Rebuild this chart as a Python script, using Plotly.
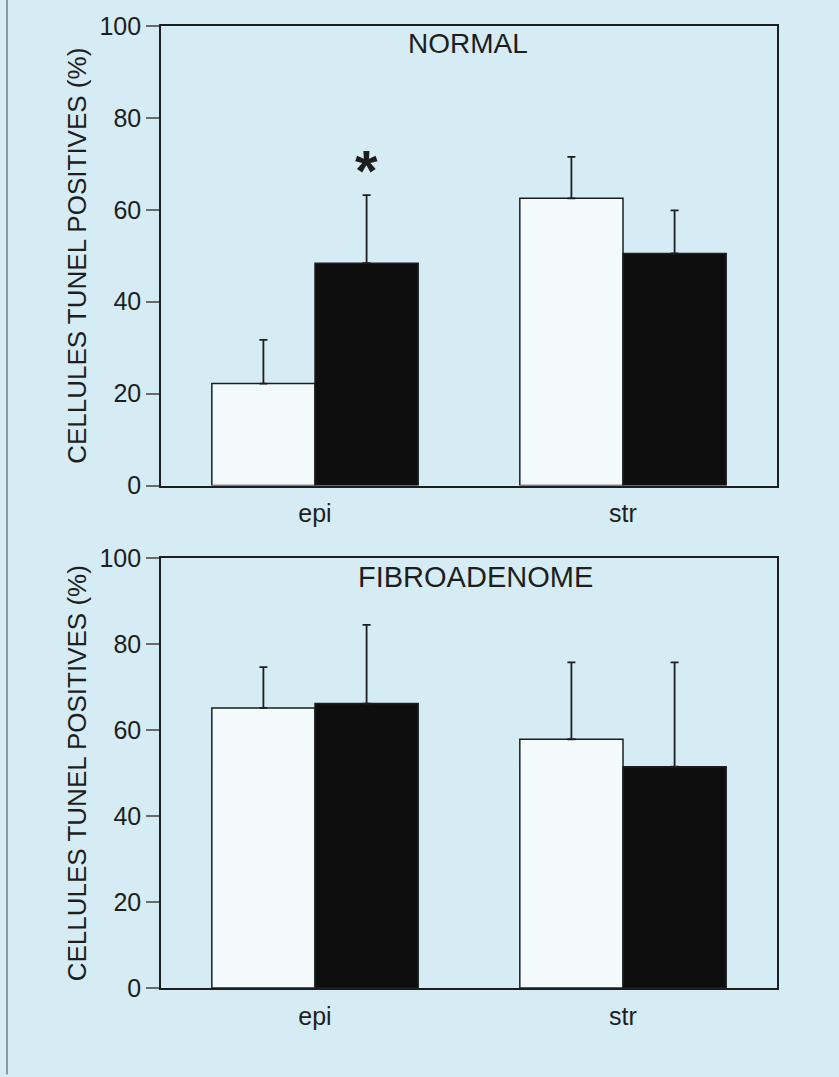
import plotly.graph_objects as go

# ---- data ----
categories = ["epi", "str"]
panel_titles = ["NORMAL", "FIBROADENOME"]

normal_white = [22.2, 62.5]
normal_white_err = [9.5, 9.0]
normal_black = [48.4, 50.5]
normal_black_err = [14.8, 9.4]

fibro_white = [65.2, 57.9]
fibro_white_err = [9.5, 17.9]
fibro_black = [66.2, 51.5]
fibro_black_err = [18.3, 24.3]

y_ticks = [0, 20, 40, 60, 80, 100]
y_title = "CELLULES TUNEL POSITIVES (%)"
star_text = "*"

# ---- style ----
BG = "#d6ecf5"
INK = "#1e1e1e"
WHITE_BAR = "#f3fafc"
BLACK_BAR = "#0e0e0e"
FONT = "Liberation Sans, Arial, Helvetica, sans-serif"

fig = go.Figure()

def add_pair(white, werr, black, berr, xa, ya):
    fig.add_trace(go.Bar(
        x=categories, y=white, xaxis=xa, yaxis=ya,
        marker=dict(color=WHITE_BAR, line=dict(color=INK, width=1.5)),
        error_y=dict(type="data", array=werr, symmetric=False, arrayminus=[0] * len(werr),
                     color=INK, thickness=1.8, width=4),
        showlegend=False, hoverinfo="skip"))
    fig.add_trace(go.Bar(
        x=categories, y=black, xaxis=xa, yaxis=ya,
        marker=dict(color=BLACK_BAR, line=dict(color=INK, width=1.5)),
        error_y=dict(type="data", array=berr, symmetric=False, arrayminus=[0] * len(berr),
                     color=INK, thickness=1.8, width=4),
        showlegend=False, hoverinfo="skip"))

add_pair(normal_white, normal_white_err, normal_black, normal_black_err, "x", "y")
add_pair(fibro_white, fibro_white_err, fibro_black, fibro_black_err, "x2", "y2")

yaxis_common = dict(
    range=[0, 100], tickvals=y_ticks, ticks="outside", ticklen=13, tickwidth=1.5,
    tickcolor="#6a6a6a", showline=True, linecolor=INK, linewidth=1.6, mirror=True,
    showgrid=False, zeroline=False, tickfont=dict(family=FONT, size=25, color=INK),
    title=dict(text=y_title, font=dict(family=FONT, size=26, color=INK), standoff=5),
    fixedrange=True,
)
xaxis_common = dict(
    showline=True, linecolor=INK, linewidth=1.6, mirror=True, ticks="",
    showgrid=False, zeroline=False, tickfont=dict(family=FONT, size=25, color=INK),
    ticklabelstandoff=5, fixedrange=True,
)

fig.update_layout(
    width=839, height=1077,
    margin=dict(l=161, r=62, t=23, b=89),
    paper_bgcolor=BG, plot_bgcolor=BG,
    barmode="group", bargap=0.33, bargroupgap=0,
    font=dict(family=FONT, color=INK),
    xaxis=dict(domain=[0, 1], anchor="y", **xaxis_common),
    yaxis=dict(domain=[0.5223, 1], anchor="x", **yaxis_common),
    xaxis2=dict(domain=[0, 1], anchor="y2", **xaxis_common),
    yaxis2=dict(domain=[0, 0.4466], anchor="x2", **yaxis_common),
)

# panel titles
fig.add_annotation(text=panel_titles[0], xref="x domain", yref="y domain", x=0.5, y=1,
                   xanchor="center", yanchor="middle", yshift=-17, xshift=-1,
                   showarrow=False, font=dict(family=FONT, size=28, color=INK))
fig.add_annotation(text=panel_titles[1], xref="x2 domain", yref="y2 domain", x=0.5, y=1,
                   xanchor="center", yanchor="middle", yshift=-19, xshift=6,
                   showarrow=False, font=dict(family=FONT, size=29, color=INK))

# significance star above the black epi bar (normal panel)
fig.add_annotation(text="<b>" + star_text + "</b>", xref="x", yref="y",
                   x=categories[0], y=normal_black[0] + normal_black_err[0],
                   xshift=51, yshift=-10, yanchor="bottom", showarrow=False,
                   font=dict(family=FONT, size=58, color=INK))

# scan page edge on the left
fig.add_shape(type="line", xref="paper", yref="paper", x0=-0.250, x1=-0.250, y0=-0.09, y1=1.03,
              line=dict(color="#8a9aa0", width=2))

fig.write_html("out.html")
